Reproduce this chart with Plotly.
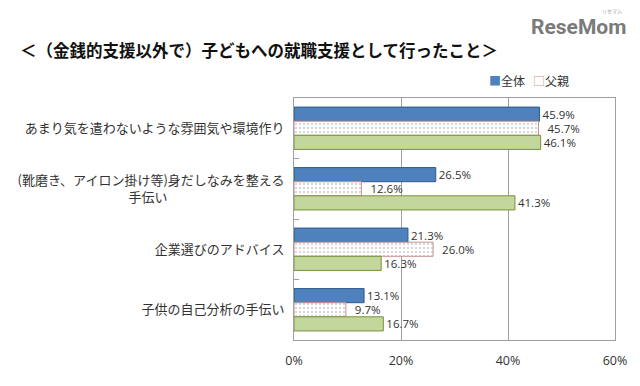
import plotly.graph_objects as go

categories = [
    "あまり気を遣わないような雰囲気や環境作り",
    "(靴磨き、アイロン掛け等)身だしなみを整える<br>手伝い" + "\u3000" * 9,
    "企業選びのアドバイス",
    "子供の自己分析の手伝い",
]
series_names = ["全体", "父親", "母親"]
total_vals = [45.9, 26.5, 21.3, 13.1]
father_vals = [45.7, 12.6, 26.0, 9.7]
mother_vals = [46.1, 41.3, 16.3, 16.7]
x_ticks = [0, 20, 40, 60]
x_tick_labels = ["0%", "20%", "40%", "60%"]

jp = "Noto Sans CJK JP"
# the page body has an 8px margin; lay out in reference pixel coords shifted by 8
OFF = 8
W, H = 624, 370
PL, PR, PT, PB = 294, 615, 98, 340  # plot-area edges in reference pixels
L = PL - OFF
R = W - (PR - OFF)
T = PT - OFF
B = H - (PB - OFF)
pa_w = W - L - R
pa_h = H - T - B


def px_x(x):
    return (x - OFF - L) / pa_w


def px_y(y):
    return (H - B - (y - OFF)) / pa_h


fig = go.Figure()


def lbl(v):
    return [f"{x:.1f}%" for x in v]


common_text = dict(size=11.5, color="#333333", family="Open Sans")

fig.add_trace(go.Bar(
    y=categories, x=total_vals, name=series_names[0], orientation="h",
    marker=dict(color="#4f81bd", line=dict(color="#2f5a8c", width=1)),
    text=lbl(total_vals), textposition="outside", cliponaxis=False,
    constraintext="none", textfont=common_text,
))
fig.add_trace(go.Bar(
    y=categories, x=father_vals, name=series_names[1], orientation="h",
    marker=dict(color="white", line=dict(color="#c9928f", width=1),
                pattern=dict(shape=".", fgcolor="#b0b0b0", bgcolor="white", size=4, solidity=0.3)),
    text=["  " + t for t in lbl(father_vals)], textposition="outside", cliponaxis=False,
    constraintext="none", textfont=common_text,
))
fig.add_trace(go.Bar(
    y=categories, x=mother_vals, name=series_names[2], orientation="h",
    marker=dict(color="#c3d69b", line=dict(color="#77933c", width=1)),
    text=lbl(mother_vals), textposition="outside", cliponaxis=False,
    constraintext="none", textfont=common_text,
))

fig.update_layout(
    width=W, height=H,
    margin=dict(l=L, r=R, t=T, b=B, autoexpand=False),
    paper_bgcolor="white", plot_bgcolor="white",
    barmode="group", bargap=0.3, bargroupgap=0,
    font=dict(family=jp, size=12, color="#333333"),
    showlegend=False,
)
fig.update_xaxes(
    range=[0, 60], tickvals=x_ticks, ticktext=x_tick_labels,
    showgrid=True, gridcolor="#a0a0a0", gridwidth=1,
    showline=True, linecolor="#a0a0a0", mirror=True, zeroline=False,
    ticks="", ticklabelstandoff=9, automargin=False,
    tickfont=dict(size=12.5, family="Open Sans", color="#333333"),
)
fig.update_yaxes(
    autorange="reversed", showline=True, linecolor="#a0a0a0", mirror=True,
    ticks="inside", tickson="boundaries", ticklen=5, tickcolor="#a0a0a0",
    tickfont=dict(size=13, family=jp, color="#333333"), ticklabelstandoff=6,
    automargin=False,
)

# legend drawn as text (reference shows only 全体 and 父親)
fig.add_annotation(
    text="<span style='color:#4f81bd'>■</span>" + series_names[0],
    x=px_x(487), y=px_y(80), xref="paper", yref="paper", showarrow=False,
    xanchor="left", yanchor="middle", font=dict(size=12, family=jp, color="#333333"),
)
fig.add_annotation(
    text="<span style='color:#c9928f'>□</span>" + series_names[1],
    x=px_x(531), y=px_y(80), xref="paper", yref="paper", showarrow=False,
    xanchor="left", yanchor="middle", font=dict(size=12, family=jp, color="#333333"),
)

fig.add_annotation(
    text="<b>＜（金銭的支援以外で）子どもへの就職支援として行ったこと＞</b>",
    x=px_x(18), y=px_y(50), xref="paper", yref="paper", showarrow=False,
    xanchor="left", yanchor="middle", font=dict(size=16.5, family=jp, color="#111111"),
)
fig.add_annotation(
    text="<b>ReseMom</b>", x=px_x(628), y=px_y(27), xref="paper", yref="paper",
    showarrow=False, xanchor="right", yanchor="middle",
    font=dict(size=21, family="Roboto", color="#7a7a7a"),
)
fig.add_annotation(
    text="リセマム", x=px_x(612), y=px_y(11), xref="paper", yref="paper",
    showarrow=False, xanchor="center", yanchor="middle",
    font=dict(size=5, family=jp, color="#9a9a9a"),
)

fig.write_html("out.html")
